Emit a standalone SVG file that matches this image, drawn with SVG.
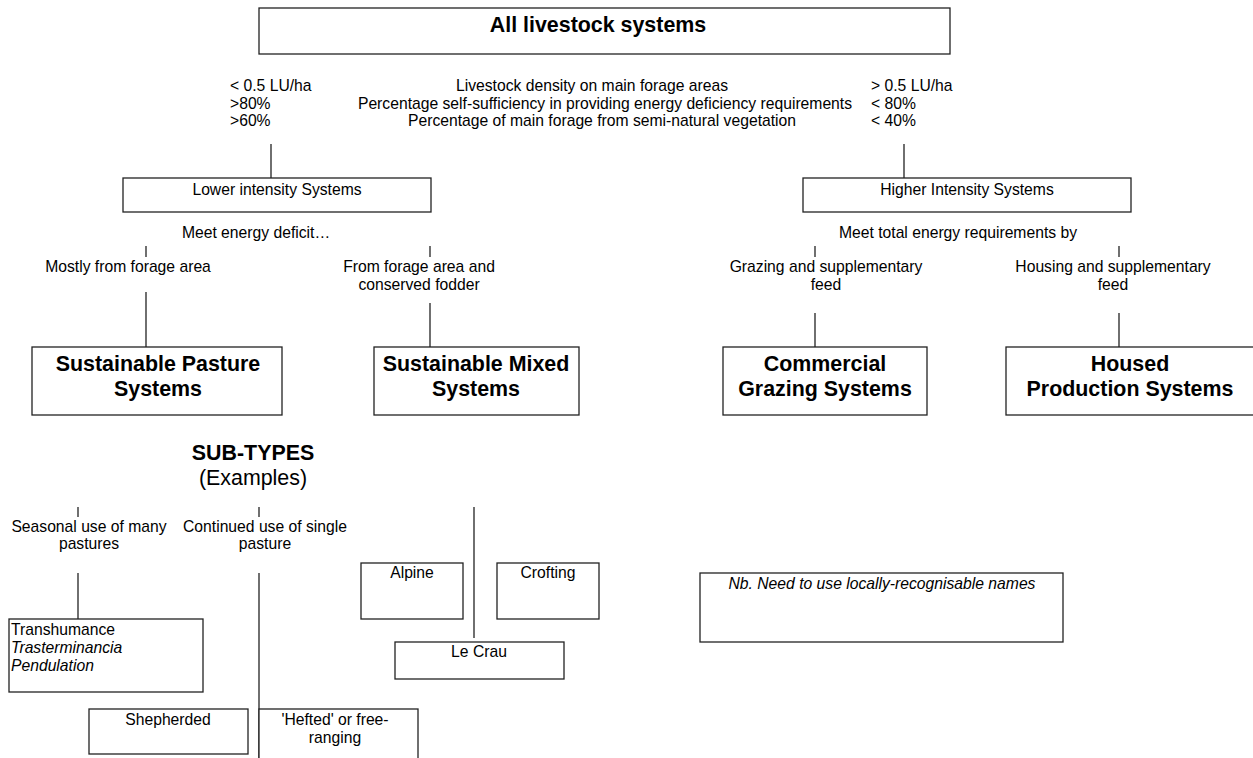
<svg xmlns="http://www.w3.org/2000/svg" width="1253" height="758" viewBox="0 0 1253 758">
<style>
  text { font-family: "Liberation Sans", Arial, sans-serif; fill: #000; }
  .t { font-size: 15.7px; }
  .c { text-anchor: middle; }
  .b { font-size: 21.4px; font-weight: bold; }
  .big { font-size: 21.4px; }
  .i { font-style: italic; }
  .box { fill: #fff; stroke: #222; stroke-width: 1.3; }
  .ln { stroke: #222; stroke-width: 1.3; fill: none; }
</style>
<rect width="1253" height="758" fill="#fff"/>

<g id="connectors">
  <line class="ln" x1="271" y1="144" x2="271" y2="178"/>
  <line class="ln" x1="904" y1="144" x2="904" y2="178"/>
  <line class="ln" x1="146" y1="246" x2="146" y2="257"/>
  <line class="ln" x1="430" y1="246" x2="430" y2="257"/>
  <line class="ln" x1="146" y1="292" x2="146" y2="347"/>
  <line class="ln" x1="430" y1="303" x2="430" y2="347"/>
  <line class="ln" x1="815" y1="246" x2="815" y2="257"/>
  <line class="ln" x1="1119" y1="246" x2="1119" y2="257"/>
  <line class="ln" x1="815" y1="313" x2="815" y2="347"/>
  <line class="ln" x1="1119" y1="313" x2="1119" y2="347"/>
  <line class="ln" x1="78" y1="507" x2="78" y2="517"/>
  <line class="ln" x1="259" y1="507" x2="259" y2="517"/>
  <line class="ln" x1="78" y1="573" x2="78" y2="619"/>
  <line class="ln" x1="259" y1="573" x2="259" y2="758"/>
  <line class="ln" x1="474" y1="507" x2="474" y2="638"/>
</g>

<g id="all-livestock">
  <rect class="box" x="259" y="8" width="691" height="46"/>
  <text class="b c" x="598" y="32">All livestock systems</text>
</g>

<g id="criteria">
  <text class="t" x="230" y="91">&lt; 0.5 LU/ha</text>
  <text class="t" x="230" y="108.5">&gt;80%</text>
  <text class="t" x="230" y="126">&gt;60%</text>
  <text class="t c" x="592" y="91">Livestock density on main forage areas</text>
  <text class="t c" x="605" y="108.5">Percentage self-sufficiency in providing energy deficiency requirements</text>
  <text class="t c" x="602" y="126">Percentage of main forage from semi-natural vegetation</text>
  <text class="t" x="871" y="91">&gt; 0.5 LU/ha</text>
  <text class="t" x="871" y="108.5">&lt; 80%</text>
  <text class="t" x="871" y="126">&lt; 40%</text>
</g>

<g id="lower-intensity">
  <rect class="box" x="123" y="178" width="308" height="34"/>
  <text class="t c" x="277" y="194.5">Lower intensity Systems</text>
</g>

<g id="higher-intensity">
  <rect class="box" x="803" y="178" width="328" height="34"/>
  <text class="t c" x="967" y="194.5">Higher Intensity Systems</text>
</g>

<g id="labels-lower">
  <text class="t c" x="256" y="238">Meet energy deficit…</text>
  <text class="t c" x="128" y="272">Mostly from forage area</text>
  <text class="t c" x="419" y="272">From forage area and</text>
  <text class="t c" x="419" y="290">conserved fodder</text>
</g>

<g id="labels-higher">
  <text class="t c" x="958" y="238">Meet total energy requirements by</text>
  <text class="t c" x="826" y="272">Grazing and supplementary</text>
  <text class="t c" x="826" y="290">feed</text>
  <text class="t c" x="1113" y="272">Housing and supplementary</text>
  <text class="t c" x="1113" y="290">feed</text>
</g>

<g id="sustainable-pasture">
  <rect class="box" x="32" y="347" width="250" height="68"/>
  <text class="b c" x="158" y="371">Sustainable Pasture</text>
  <text class="b c" x="158" y="396">Systems</text>
</g>

<g id="sustainable-mixed">
  <rect class="box" x="374" y="347" width="205" height="68"/>
  <text class="b c" x="476" y="371">Sustainable Mixed</text>
  <text class="b c" x="476" y="396">Systems</text>
</g>

<g id="commercial-grazing">
  <rect class="box" x="723" y="347" width="204" height="68"/>
  <text class="b c" x="825" y="371">Commercial</text>
  <text class="b c" x="825" y="396">Grazing Systems</text>
</g>

<g id="housed-production">
  <rect class="box" x="1006" y="347" width="260" height="68"/>
  <text class="b c" x="1130" y="371">Housed</text>
  <text class="b c" x="1130" y="396">Production Systems</text>
</g>

<g id="subtypes-heading">
  <text class="b c" x="253" y="460">SUB-TYPES</text>
  <text class="big c" x="253" y="485">(Examples)</text>
</g>

<g id="subtype-labels">
  <text class="t c" x="89" y="532">Seasonal use of many</text>
  <text class="t c" x="89" y="549">pastures</text>
  <text class="t c" x="265" y="532">Continued use of single</text>
  <text class="t c" x="265" y="549">pasture</text>
</g>

<g id="transhumance">
  <rect class="box" x="9" y="619" width="194" height="73"/>
  <text class="t" x="11" y="635">Transhumance</text>
  <text class="t i" x="11" y="653">Trasterminancia</text>
  <text class="t i" x="11" y="671">Pendulation</text>
</g>

<g id="shepherded">
  <rect class="box" x="89" y="709" width="159" height="45"/>
  <text class="t c" x="168" y="725">Shepherded</text>
</g>

<g id="hefted">
  <rect class="box" x="259" y="709" width="159" height="60"/>
  <text class="t c" x="335" y="725">'Hefted' or free-</text>
  <text class="t c" x="335" y="743">ranging</text>
</g>

<g id="alpine">
  <rect class="box" x="361" y="563" width="102" height="56"/>
  <text class="t c" x="412" y="578">Alpine</text>
</g>

<g id="crofting">
  <rect class="box" x="497" y="563" width="102" height="56"/>
  <text class="t c" x="548" y="578">Crofting</text>
</g>

<g id="le-crau">
  <rect class="box" x="395" y="642" width="169" height="37"/>
  <text class="t c" x="479" y="657">Le Crau</text>
</g>

<g id="note">
  <rect class="box" x="700" y="573" width="363" height="69"/>
  <text class="t i c" x="882" y="589">Nb. Need to use locally-recognisable names</text>
</g>
</svg>
